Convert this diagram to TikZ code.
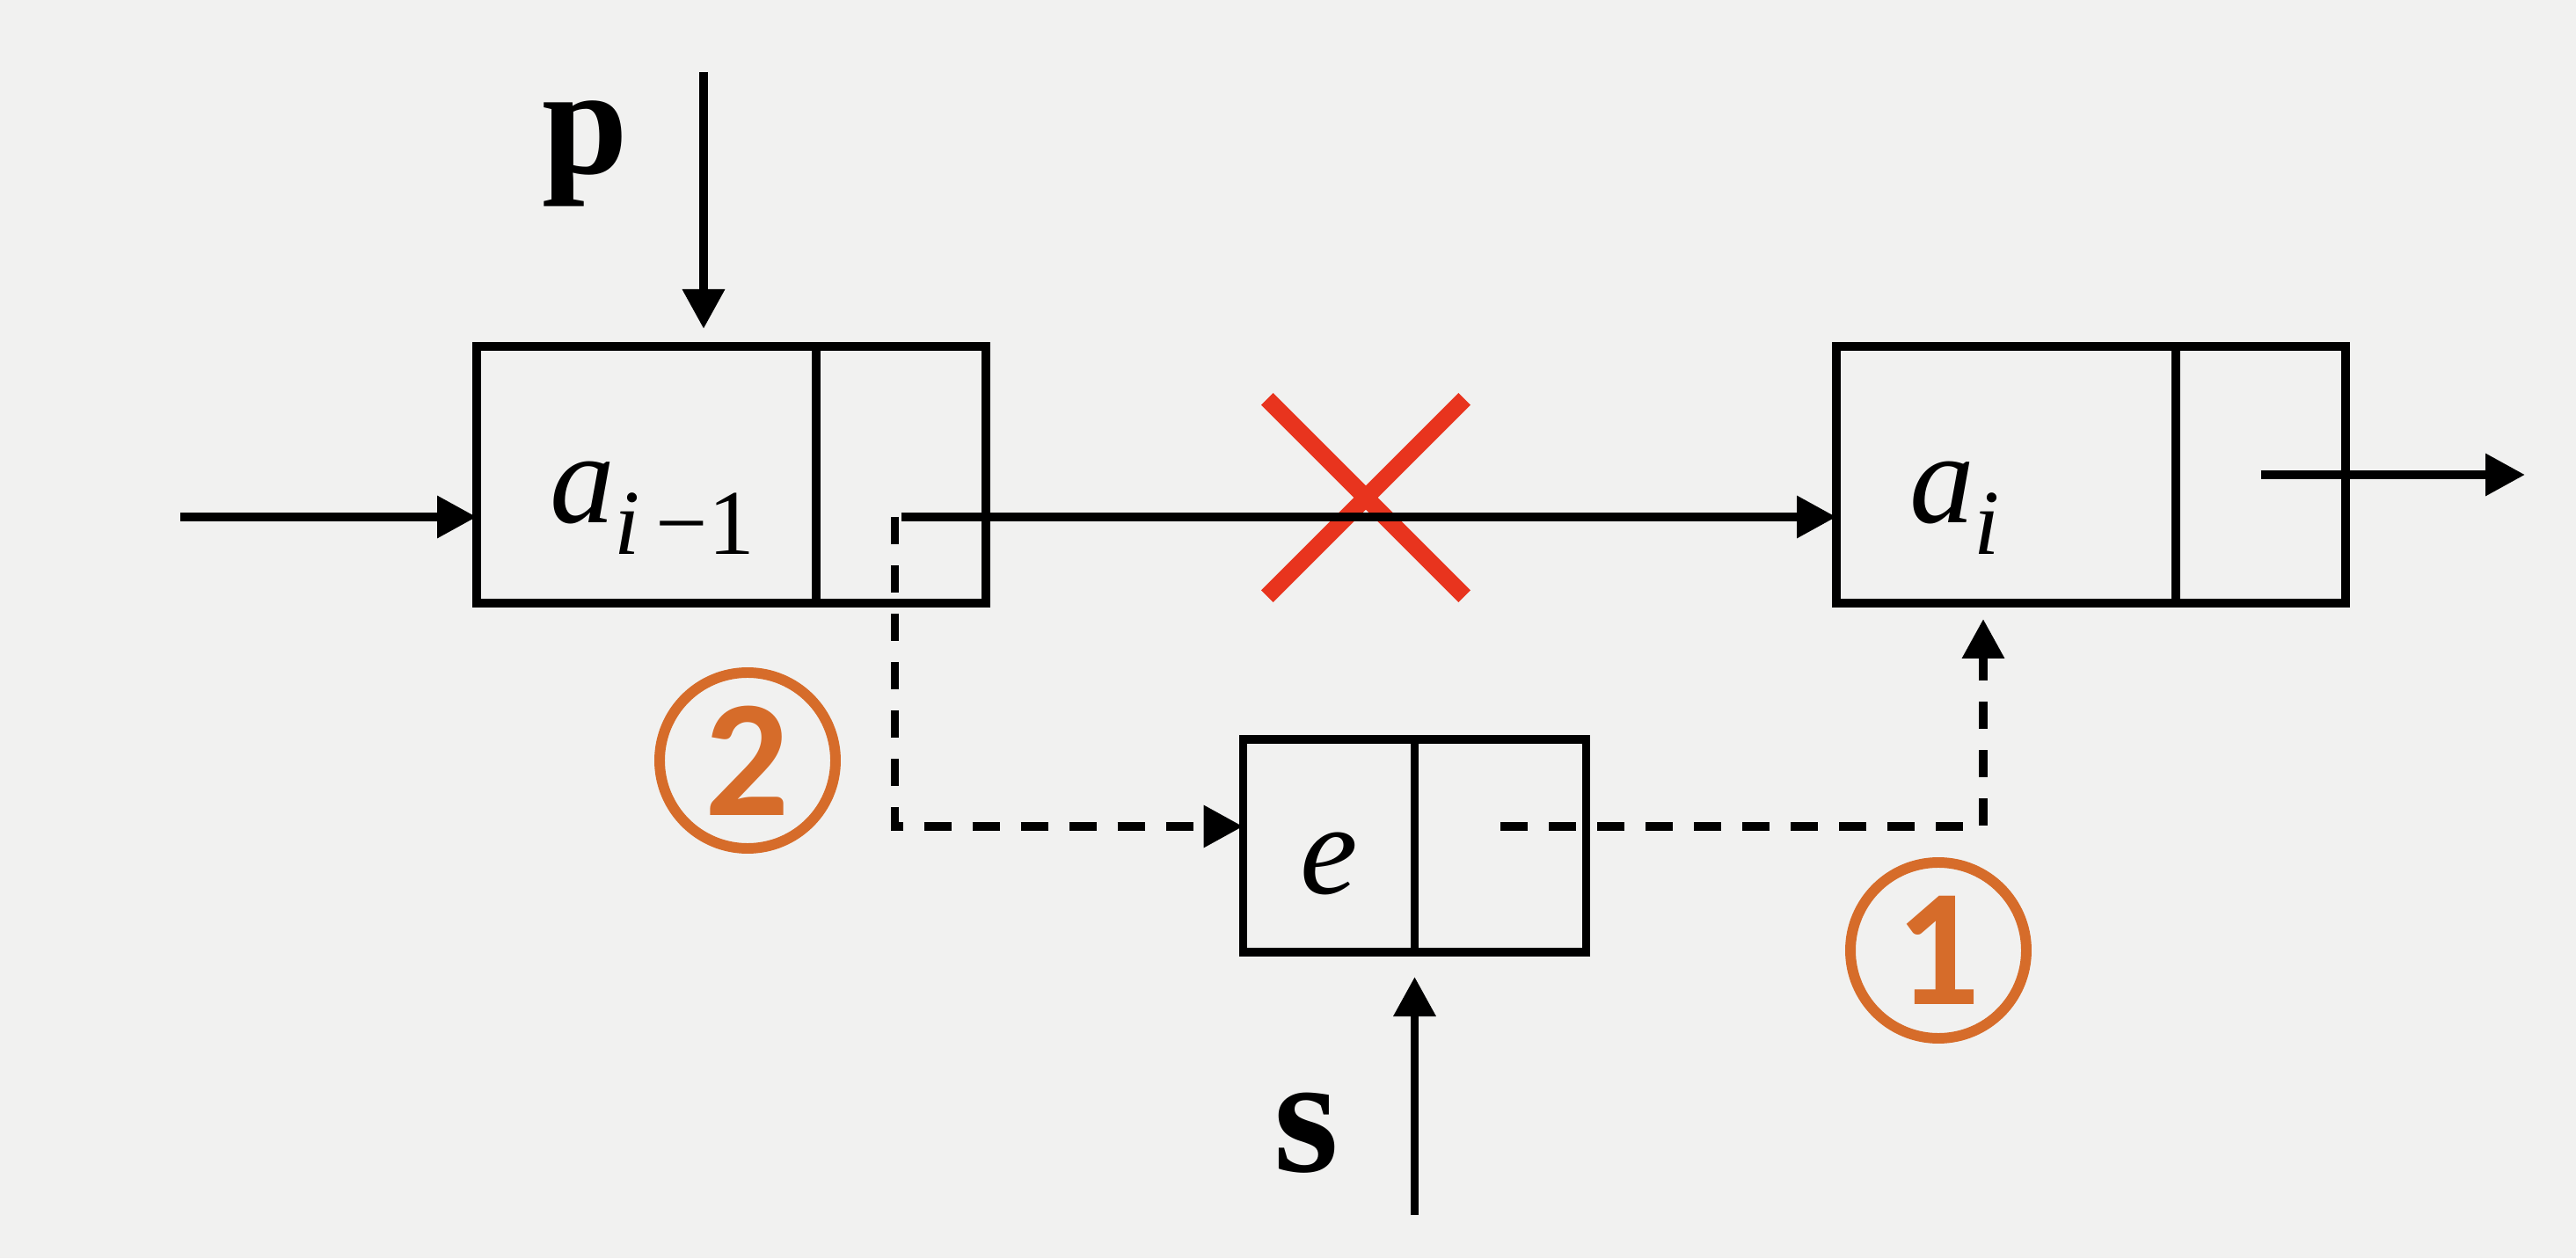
\documentclass[tikz,border=0pt]{standalone}
\usepackage{fontspec}
\setmainfont{Liberation Serif}
\newfontfamily\numfont{Carlito}
\usetikzlibrary{positioning,arrows.meta,shapes.misc}
\definecolor{bgcol}{RGB}{241,241,240}
\definecolor{xred}{RGB}{232,52,30}
\definecolor{numorange}{RGB}{214,108,42}
\newcommand{\idx}[1]{\raisebox{-10pt}{\fontsize{30}{30}\selectfont #1}}
\tikzstyle{cell} = [rectangle, draw, line width=2.8pt, outer sep=0pt, inner sep=0pt,
    minimum height=2.92cm, text height=1.3cm, text depth=0.2cm,
    font=\fontsize{42}{50}\selectfont\itshape]
\tikzstyle{data} = [cell, minimum width=3.86cm, text width=2.2cm, align=left]
\tikzstyle{ptr} = [cell, minimum width=1.93cm]
\tikzstyle{smallcell} = [cell, minimum width=1.95cm, minimum height=2.42cm]
\tikzstyle{line} = [draw, line width=2.8pt, -{Triangle[length=4.5mm,width=4.6mm]}]
\tikzstyle{dline} = [line, dash pattern=on 0.31cm off 0.24cm]
\tikzstyle{ptrname} = [font=\fontsize{50}{60}\selectfont\bfseries]
\tikzstyle{stepnum} = [circle, draw=numorange, line width=3.4pt, text=numorange,
    minimum size=2.0cm, inner sep=0pt, font=\numfont\fontsize{54}{54}\selectfont\bfseries]

\begin{document}
\begin{tikzpicture}
 \useasboundingbox (0,0) rectangle (29.29,14.31);
 \fill[bgcol] (0,0) rectangle (29.29,14.31);

 \node[data] (a1) at (7.35,8.91) {a\idx{i\,\upshape−1}};
 \node[ptr, right=0pt of a1] (a1p) {};
 \node[data] (a2) at (22.81,8.91) {a\idx{i}};
 \node[ptr, right=0pt of a2] (a2p) {};
 \node[smallcell] (e) at (15.11,4.69) {e};
 \node[smallcell, right=0pt of e] (ep) {};

 \node[ptrname] (p) at (6.65,12.56) {p};
 \node[ptrname, font=\fontsize{54}{60}\selectfont\bfseries] (s) at (14.85,1.42) {s};
 \node[stepnum] (n2) at (8.50,5.66) {2};
 \node[stepnum] (n1) at (22.04,3.50) {1};
 \node[cross out, draw=xred, line width=5.5pt, minimum size=2.05cm, inner sep=0pt] (cut) at (15.53,8.65) {};

 \coordinate (in) at (2.05,8.43);
 \coordinate (out) at (28.71,8.91);
 \coordinate (ptop) at (8.00,13.49);
 \coordinate (sbot) at ([yshift=-2.99cm]e.south east);
 \coordinate (a1out) at ([yshift=-0.48cm]a1p.center);

 \path[line] (in) -- (in -| a1.west);
 \path[line] (a1out) -- (a1out -| a2.west);
 \path[line] (a2p.center) -- (out);
 \path[line] (ptop) -- ([yshift=0.2cm]ptop |- a1.north);
 \path[line] (sbot) -- ([yshift=-0.28cm]e.south east);
 \path[dline] ([xshift=-0.07cm]a1out) |- ([yshift=0.22cm]e.west);
 \path[dline] ([yshift=0.22cm]ep.center) -| ([xshift=-0.26cm,yshift=-0.18cm]a2.south);
\end{tikzpicture}
\end{document}
